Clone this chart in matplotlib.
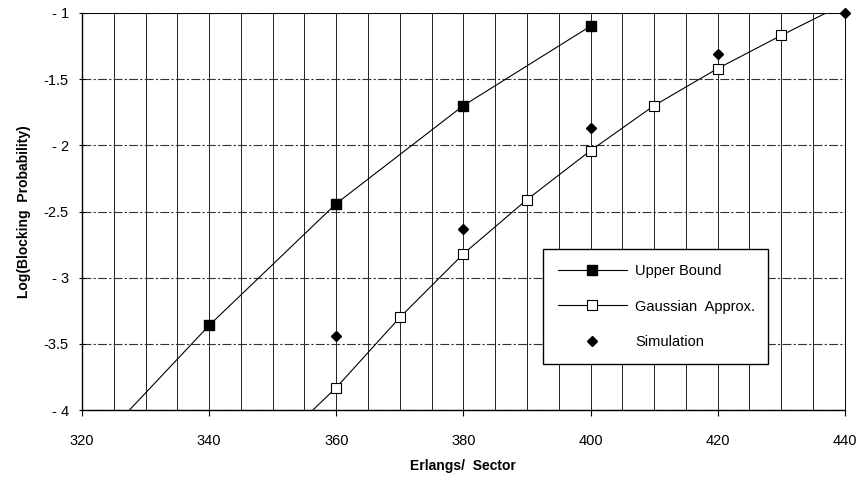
import matplotlib
matplotlib.use("Agg")
import matplotlib.pyplot as plt
from matplotlib.ticker import MultipleLocator

plt.rcParams['font.family'] = ['Liberation Sans', 'DejaVu Sans']

# Upper bound (filled squares); the 320 point lies below the visible range
upper_x = [320, 340, 360, 380, 400]
upper_y = [-4.38, -3.36, -2.44, -1.70, -1.10]

# Gaussian approximation (open squares); end points run off the axes
gauss_x = [350, 360, 370, 380, 390, 400, 410, 420, 430, 440]
gauss_y = [-4.29, -3.83, -3.30, -2.82, -2.41, -2.04, -1.70, -1.42, -1.17, -0.93]

# Simulation (diamonds)
sim_x = [360, 380, 400, 420, 440]
sim_y = [-3.44, -2.63, -1.87, -1.31, -1.00]

x_ticks = [320, 340, 360, 380, 400, 420, 440]
y_ticks = [-4, -3.5, -3, -2.5, -2, -1.5, -1]
y_tick_labels = ['- 4', '-3.5', '- 3', '-2.5', '- 2', '-1.5', '- 1']

fig = plt.figure(figsize=(8.58, 4.78), dpi=100)
ax = fig.add_axes([0.0956, 0.142, 0.889, 0.831])

# grid: vertical every 5, horizontal every 0.5
ax.xaxis.set_minor_locator(MultipleLocator(5))
ax.grid(True, which='both', axis='x', color='black', lw=0.6)
ax.grid(True, which='major', axis='y', color='#333333', lw=0.8, ls=(0, (8, 2, 2, 2)))
ax.set_axisbelow(True)

ax.plot(upper_x, upper_y, color='black', lw=0.8, marker='s', ms=6.5,
        mfc='black', mec='black', label='Upper Bound')
ax.plot(gauss_x, gauss_y, color='black', lw=0.8, marker='s', ms=7,
        mfc='white', mec='black', mew=0.8, label='Gaussian  Approx.')
ax.plot(sim_x, sim_y, ls='none', marker='D', ms=5.5, mfc='black', mec='black',
        label='Simulation', clip_on=False, zorder=5)

ax.set_xlim(320, 440)
ax.set_ylim(-4, -1)
ax.set_xticks(x_ticks)
ax.set_yticks(y_ticks)
ax.set_yticklabels(y_tick_labels)

ax.tick_params(axis='x', which='major', direction='out', length=4, width=0.8,
               pad=13, labelsize=10.5)
ax.tick_params(axis='x', which='minor', length=0)
ax.tick_params(axis='y', which='major', direction='inout', length=5, width=0.8,
               pad=7, labelsize=10.5)

for side in ['left', 'bottom']:
    ax.spines[side].set_linewidth(1.0)
for side in ['top', 'right']:
    ax.spines[side].set_linewidth(0.7)

ax.set_xlabel('Erlangs/  Sector', fontweight='bold', fontsize=10, labelpad=8)
ax.set_ylabel('Log(Blocking  Probability)', fontweight='bold', fontsize=10, labelpad=9)

leg = ax.legend(loc='lower left', bbox_to_anchor=(0.605, 0.116, 0.294, 0.297),
                mode='expand', fontsize=10.5, frameon=True, fancybox=False,
                edgecolor='black', framealpha=1, borderpad=1.0, labelspacing=1.5,
                handlelength=4.7, handletextpad=0.6, borderaxespad=0)
leg.get_frame().set_linewidth(1.0)

fig.savefig('out.png', dpi=100)
